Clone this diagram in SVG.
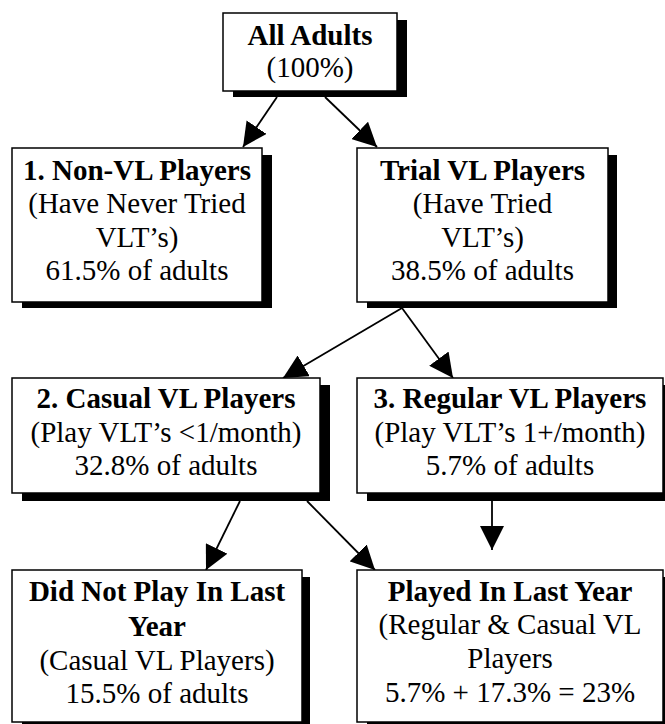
<svg xmlns="http://www.w3.org/2000/svg" width="665" height="724" viewBox="0 0 665 724">
<style>
.box{fill:#fff;stroke:#000;stroke-width:1.5}
.sh{fill:#000}
text{font-family:"Liberation Serif","Times New Roman",serif;font-size:29px;fill:#000;text-anchor:middle}
.b{font-weight:bold}
.ln{stroke:#000;stroke-width:1.8;fill:none;marker-end:url(#ah)}
</style>
<defs>
<marker id="ah" viewBox="0 0 24 24" refX="24" refY="12" markerWidth="24" markerHeight="24" markerUnits="userSpaceOnUse" orient="auto">
<path d="M0,0 L24,12 L0,24 z" fill="#000"/>
</marker>
</defs>
<g id="connectors">
<line class="ln" x1="277" y1="97" x2="243" y2="147"/>
<line class="ln" x1="325" y1="97" x2="377" y2="147"/>
<line class="ln" x1="402" y1="308" x2="283" y2="378"/>
<line class="ln" x1="402" y1="308" x2="453" y2="378"/>
<line class="ln" x1="240" y1="501" x2="206" y2="570"/>
<line class="ln" x1="307" y1="501" x2="375" y2="570"/>
<line class="ln" x1="492" y1="501" x2="492" y2="550"/>
</g>
<g id="all-adults">
<rect class="sh" x="233" y="20" width="174" height="77"/>
<rect class="box" x="223" y="13" width="174" height="78"/>
<text class="b" x="310" y="45">All Adults</text>
<text x="310" y="77">(100%)</text>
</g>
<g id="non-vl">
<rect class="sh" x="22" y="155" width="250" height="153"/>
<rect class="box" x="12" y="148" width="250" height="154"/>
<text class="b" x="137" y="180">1. Non-VL Players</text>
<text x="137" y="213">(Have Never Tried</text>
<text x="137" y="247">VLT’s)</text>
<text x="137" y="280">61.5% of adults</text>
</g>
<g id="trial">
<rect class="sh" x="367" y="155" width="250" height="153"/>
<rect class="box" x="357" y="148" width="251" height="154"/>
<text class="b" x="482.5" y="180">Trial VL Players</text>
<text x="482.5" y="213">(Have Tried</text>
<text x="482.5" y="247">VLT’s)</text>
<text x="482.5" y="280">38.5% of adults</text>
</g>
<g id="casual">
<rect class="sh" x="22" y="385" width="308" height="116"/>
<rect class="box" x="12" y="378" width="308" height="115"/>
<text class="b" x="166" y="408">2. Casual VL Players</text>
<text x="166" y="442">(Play VLT’s &lt;1/month)</text>
<text x="166" y="475">32.8% of adults</text>
</g>
<g id="regular">
<rect class="sh" x="367" y="385" width="308" height="116"/>
<rect class="box" x="357" y="378" width="306" height="115"/>
<text class="b" x="510" y="408">3. Regular VL Players</text>
<text x="510" y="442">(Play VLT’s 1+/month)</text>
<text x="510" y="475">5.7% of adults</text>
</g>
<g id="did-not-play">
<rect class="sh" x="22" y="577" width="288" height="160"/>
<rect class="box" x="12" y="570" width="290" height="152"/>
<text class="b" x="157" y="601">Did Not Play In Last</text>
<text class="b" x="157" y="636">Year</text>
<text x="157" y="670">(Casual VL Players)</text>
<text x="157" y="703">15.5% of adults</text>
</g>
<g id="played">
<rect class="sh" x="367" y="577" width="308" height="160"/>
<rect class="box" x="357" y="570" width="306" height="152"/>
<text class="b" x="510" y="601">Played In Last Year</text>
<text x="510" y="634">(Regular &amp; Casual VL</text>
<text x="510" y="668">Players</text>
<text x="510" y="702">5.7% + 17.3% = 23%</text>
</g>
</svg>
